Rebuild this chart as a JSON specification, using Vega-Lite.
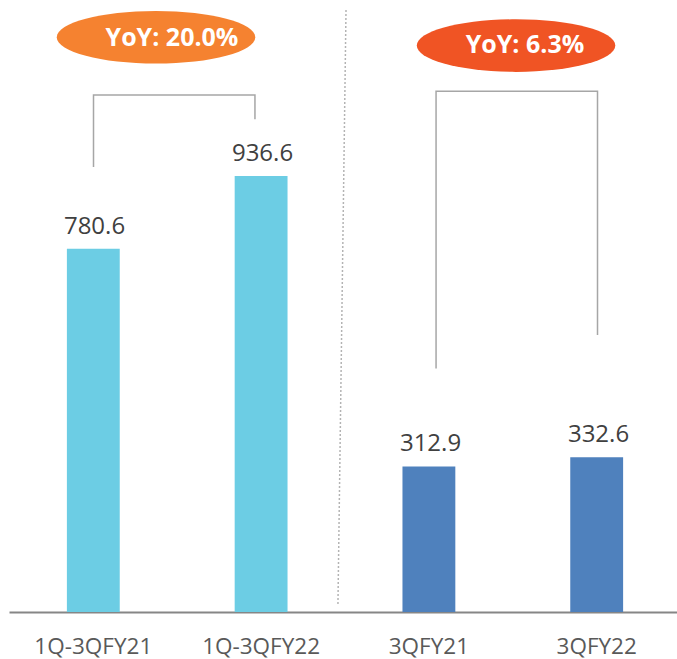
{
  "$schema": "https://vega.github.io/schema/vega-lite/v6.json",
  "autosize": "none",
  "width": 672,
  "height": 612,
  "padding": {"left": 9, "top": 0, "right": 0, "bottom": 47},
  "background": "white",
  "config": {"view": {"stroke": null}, "font": "Open Sans"},
  "resolve": {"scale": {"x": "independent", "color": "independent"}},
  "layer": [
    {
      "data": {"values": [
        {"cat": "1Q-3QFY21", "value": 780.6, "grp": "nine"},
        {"cat": "1Q-3QFY22", "value": 936.6, "grp": "nine"},
        {"cat": "3QFY21", "value": 312.9, "grp": "q"},
        {"cat": "3QFY22", "value": 332.6, "grp": "q"}
      ]},
      "mark": {"type": "bar"},
      "encoding": {
        "x": {
          "field": "cat", "type": "nominal", "sort": null,
          "scale": {"paddingInner": 0.685, "paddingOuter": 0.345},
          "axis": {
            "title": null, "labelAngle": 0, "ticks": false,
            "domainColor": "#868686", "domainWidth": 2,
            "labelFont": "Open Sans", "labelFontSize": 22.5, "labelColor": "#595959",
            "labelPadding": 23
          }
        },
        "y": {"field": "value", "type": "quantitative", "scale": {"domain": [0, 1315], "nice": false}, "axis": null},
        "color": {"field": "grp", "type": "nominal", "scale": {"domain": ["nine", "q"], "range": ["#6CCDE4", "#4F81BD"]}, "legend": null}
      }
    },
    {
      "data": {"values": [
        {"u": 0, "value": 780.6},
        {"u": 1, "value": 936.6},
        {"u": 2, "value": 312.9},
        {"u": 3, "value": 332.6}
      ]},
      "mark": {"type": "text", "baseline": "alphabetic", "dy": -15, "dx": 1, "font": "Open Sans", "fontSize": 24, "color": "#404040"},
      "encoding": {
        "x": {"field": "u", "type": "quantitative", "scale": {"domain": [-0.503, 3.497], "nice": false, "zero": false}, "axis": null},
        "y": {"field": "value", "type": "quantitative", "scale": {"domain": [0, 1315], "nice": false}, "axis": null},
        "text": {"field": "value", "type": "quantitative", "format": ".1f"}
      }
    },
    {
      "data": {"values": [
        {"b": "A", "s": 1, "u": 0.0, "v": 956},
        {"b": "A", "s": 2, "u": 0.0, "v": 1111},
        {"b": "A", "s": 3, "u": 0.961, "v": 1111},
        {"b": "A", "s": 4, "u": 0.961, "v": 1059},
        {"b": "B", "s": 1, "u": 2.039, "v": 523},
        {"b": "B", "s": 2, "u": 2.039, "v": 1119},
        {"b": "B", "s": 3, "u": 3.0, "v": 1119},
        {"b": "B", "s": 4, "u": 3.0, "v": 595}
      ]},
      "mark": {"type": "line", "color": "#A6A6A6", "strokeWidth": 1.5},
      "encoding": {
        "x": {"field": "u", "type": "quantitative", "scale": {"domain": [-0.503, 3.497], "nice": false, "zero": false}, "axis": null},
        "y": {"field": "v", "type": "quantitative", "scale": {"domain": [0, 1315], "nice": false}, "axis": null},
        "detail": {"field": "b", "type": "nominal"},
        "order": {"field": "s", "type": "quantitative"}
      }
    },
    {
      "data": {"values": [
        {"s": 1, "u": 1.503, "v": 1293},
        {"s": 2, "u": 1.455, "v": 16}
      ]},
      "mark": {"type": "line", "color": "#9A9A9A", "strokeWidth": 1.5, "strokeDash": [1.5, 2.5]},
      "encoding": {
        "x": {"field": "u", "type": "quantitative", "scale": {"domain": [-0.503, 3.497], "nice": false, "zero": false}, "axis": null},
        "y": {"field": "v", "type": "quantitative", "scale": {"domain": [0, 1315], "nice": false}, "axis": null},
        "order": {"field": "s", "type": "quantitative"}
      }
    },
    {
      "data": {"values": [
        {"eu": 0.372, "ev": 1235, "k": "a"},
        {"eu": 2.515, "ev": 1217, "k": "b"}
      ]},
      "mark": {"type": "point", "filled": true, "opacity": 1, "size": 39402, "shape": "M-1,0A1,0.265 0 1,1 1,0A1,0.265 0 1,1 -1,0Z"},
      "encoding": {
        "x": {"field": "eu", "type": "quantitative", "scale": {"domain": [-0.503, 3.497], "nice": false, "zero": false}, "axis": null},
        "y": {"field": "ev", "type": "quantitative", "scale": {"domain": [0, 1315], "nice": false}, "axis": null},
        "color": {"field": "k", "type": "nominal", "scale": {"domain": ["a", "b"], "range": ["#F58230", "#F05424"]}, "legend": null}
      }
    },
    {
      "data": {"values": [
        {"label": "YoY: 20.0%", "tu": 0.467, "tv": 1233},
        {"label": "YoY: 6.3%", "tu": 2.568, "tv": 1218}
      ]},
      "mark": {"type": "text", "font": "Open Sans", "fontWeight": "bold", "fontSize": 25, "color": "white", "baseline": "middle"},
      "encoding": {
        "x": {"field": "tu", "type": "quantitative", "scale": {"domain": [-0.503, 3.497], "nice": false, "zero": false}, "axis": null},
        "y": {"field": "tv", "type": "quantitative", "scale": {"domain": [0, 1315], "nice": false}, "axis": null},
        "text": {"field": "label", "type": "nominal"}
      }
    }
  ]
}
